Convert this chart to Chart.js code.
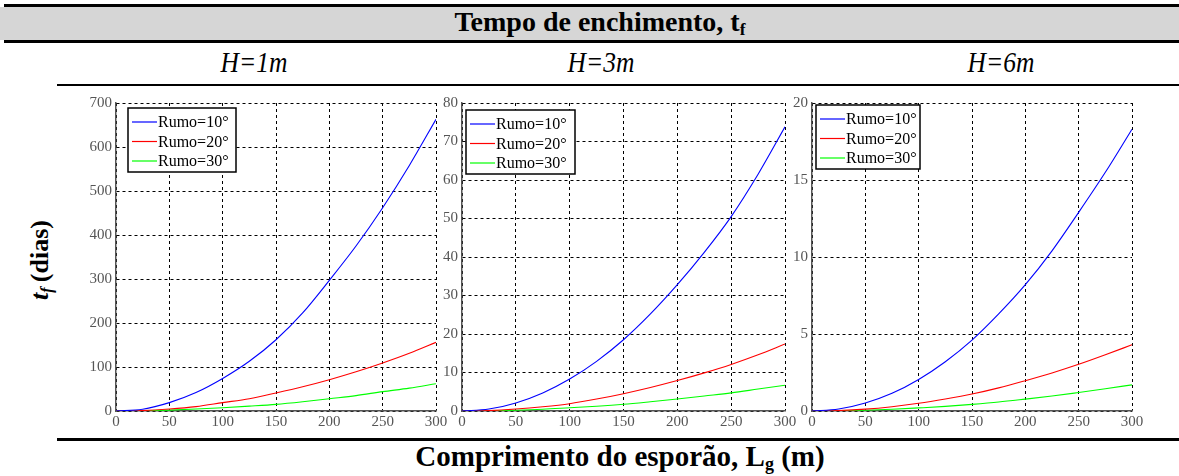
<!DOCTYPE html>
<html>
<head>
<meta charset="utf-8">
<script src="https://cdn.jsdelivr.net/npm/chart.js@4.4.1/dist/chart.umd.min.js"></script>
<style>
  html, body { margin: 0; padding: 0; background: #fff; }
  body { width: 1179px; height: 476px; position: relative; overflow: hidden; font-family: "Liberation Serif", "Times New Roman", serif; }
  .rule { position: absolute; background: #000; }
  .band { position: absolute; left: 0; top: 7px; width: 1179px; height: 33px; background: #d6d6d6; }
  .title { position: absolute; font-family: "Liberation Serif", serif; font-weight: bold; white-space: nowrap; transform: translateX(-50%); }
  .sub { position: absolute; top: 46px; font-family: "Liberation Serif", serif; font-style: italic; font-size: 29px; white-space: nowrap; transform: translateX(-50%) scaleX(0.88); }
  .ytitle { position: absolute; left: 40px; top: 260px; font-family: "Liberation Serif", serif; font-weight: bold; font-size: 26px; white-space: nowrap;
            transform: translate(-50%, -50%) rotate(-90deg); }
  canvas { position: absolute; }
  sub.s { font-size: 62%; vertical-align: -0.25em; line-height: 0; }
</style>
</head>
<body>
  <div class="rule" style="left:4px; top:4px; width:1175px; height:3px;"></div>
  <div class="band"></div>
  <div class="rule" style="left:4px; top:40px; width:1175px; height:3px;"></div>
  <div class="title" style="left:600px; top:6px; font-size:28px;">Tempo de enchimento, t<sub class="s">f</sub></div>

  <div class="sub" style="left:254px;">H=1m</div>
  <div class="sub" style="left:601px;">H=3m</div>
  <div class="sub" style="left:1001px;">H=6m</div>
  <div class="rule" style="left:57px; top:84px; width:1122px; height:2px;"></div>

  <div class="ytitle"><i>t<sub class="s">f</sub></i>&#8201;(dias)</div>

  <canvas id="c1"></canvas>
  <canvas id="c2"></canvas>
  <canvas id="c3"></canvas>

  <div class="rule" style="left:57px; top:438px; width:1122px; height:3px;"></div>
  <div class="title" style="left:620px; top:440px; font-size:29px;">Comprimento do esporão, L<sub class="s">g</sub> (m)</div>

<script>
// Spur length (m), sampled every 25 m
const lengths = [0, 25, 50, 75, 100, 125, 150, 175, 200, 225, 250, 275, 300];
const seriesLabels = ['Rumo=10°', 'Rumo=20°', 'Rumo=30°'];
const seriesColors = ['#0000ff', '#ff0000', '#00ff00'];

// Filling time t_f (days), H = 1 m
const h1Rumo10 = [0, 4, 19, 42, 74, 113, 162, 223, 297, 375, 462, 558, 663];
const h1Rumo20 = [0, 1, 4.5, 10, 19, 28, 41, 55, 71, 89, 109, 131, 156];
const h1Rumo30 = [0, 0.5, 2, 4.5, 7.5, 11, 15, 21, 28, 35, 44, 52, 62];

// Filling time t_f (days), H = 3 m
const h3Rumo10 = [0, 0.5, 2.1, 4.7, 8.3, 12.9, 18.5, 25.2, 32.8, 41.2, 50.5, 61.5, 73.8];
const h3Rumo20 = [0, 0.1, 0.5, 1.1, 1.9, 3.1, 4.5, 6.1, 7.9, 9.9, 12.1, 14.6, 17.4];
const h3Rumo30 = [0, 0.05, 0.2, 0.45, 0.85, 1.25, 1.75, 2.4, 3.1, 3.9, 4.7, 5.7, 6.7];

// Filling time t_f (days), H = 6 m
const h6Rumo10 = [0, 0.13, 0.52, 1.15, 2.05, 3.2, 4.6, 6.3, 8.2, 10.4, 12.9, 15.5, 18.3];
const h6Rumo20 = [0, 0.03, 0.12, 0.28, 0.5, 0.78, 1.1, 1.5, 1.97, 2.47, 3.03, 3.65, 4.3];
const h6Rumo30 = [0, 0.01, 0.05, 0.11, 0.2, 0.3, 0.43, 0.58, 0.77, 0.97, 1.2, 1.44, 1.7];

// Axis ticks
const xTicks = [0, 50, 100, 150, 200, 250, 300];
const yTicksH1 = [0, 100, 200, 300, 400, 500, 600, 700];
const yTicksH3 = [0, 10, 20, 30, 40, 50, 60, 70, 80];
const yTicksH6 = [0, 5, 10, 15, 20];

// Boxed legend drawn inside the plot area, top-left corner
const boxLegend = {
  id: 'boxLegend',
  afterDatasetsDraw(chart, args, opts) {
    const { ctx, chartArea } = chart;
    const x = chartArea.left + opts.dx;
    const y = chartArea.top + opts.dy;
    const rowH = 19.5;
    const n = chart.data.datasets.length;
    const h = 64;
    ctx.save();
    ctx.fillStyle = '#fff';
    ctx.fillRect(x, y, opts.width, h);
    ctx.lineWidth = 1.5;
    ctx.strokeStyle = '#000';
    ctx.strokeRect(x, y, opts.width, h);
    ctx.font = '16px "Liberation Serif"';
    ctx.textBaseline = 'middle';
    ctx.textAlign = 'left';
    for (let i = 0; i < n; i++) {
      const ds = chart.data.datasets[i];
      const cy = y + 14 + i * rowH;
      ctx.beginPath();
      ctx.strokeStyle = ds.borderColor;
      ctx.lineWidth = 1.2;
      ctx.moveTo(x + 4, cy);
      ctx.lineTo(x + 29, cy);
      ctx.stroke();
      ctx.fillStyle = '#000';
      ctx.fillText(ds.label, x + 30, cy + 1);
    }
    ctx.restore();
  }
};

function makeChart(id, left, areaWidth, yMax, yTicks, series, legendDx, legendDy, legendW) {
  const yAxisW = 40, rightPad = 14, topPad = 12, xAxisH = 24;
  const canvas = document.getElementById(id);
  const w = areaWidth + yAxisW + rightPad;
  const h = 411 - 90 + xAxisH;
  canvas.style.left = (left - yAxisW) + 'px';
  canvas.style.top = '90px';
  canvas.style.width = w + 'px';
  canvas.style.height = h + 'px';
  canvas.width = w;
  canvas.height = h;

  const datasets = series.map((vals, i) => ({
    label: seriesLabels[i],
    data: lengths.map((x, k) => ({ x: x, y: vals[k] })),
    borderColor: seriesColors[i],
    backgroundColor: seriesColors[i],
    borderWidth: 1.1,
    pointRadius: 0,
    cubicInterpolationMode: 'monotone',
    fill: false
  }));

  const tickFont = { family: '"Liberation Serif"', size: 15 };
  return new Chart(canvas, {
    type: 'line',
    data: { datasets: datasets },
    options: {
      responsive: false,
      animation: false,
      events: [],
      layout: { padding: { top: topPad, right: rightPad, left: 0, bottom: 0 } },
      plugins: {
        legend: { display: false },
        tooltip: { enabled: false },
        boxLegend: { dx: legendDx, dy: legendDy, width: legendW }
      },
      scales: {
        x: {
          type: 'linear',
          min: 0, max: 300,
          afterFit(s) { s.height = xAxisH; },
          afterBuildTicks(s) { s.ticks = xTicks.map(v => ({ value: v })); },
          ticks: { color: '#555', font: tickFont, padding: 2, maxRotation: 0 },
          grid: { color: '#000', lineWidth: 1, drawTicks: false },
          border: { display: true, color: '#555', width: 1.5, dash: [3, 3] }
        },
        y: {
          type: 'linear',
          min: 0, max: yMax,
          afterFit(s) { s.width = yAxisW; },
          afterBuildTicks(s) { s.ticks = yTicks.map(v => ({ value: v })); },
          ticks: { color: '#555', font: tickFont, padding: 4 },
          grid: { color: '#000', lineWidth: 1, drawTicks: false },
          border: { display: true, color: '#555', width: 1.5, dash: [3, 3] }
        }
      }
    },
    plugins: [boxLegend]
  });
}

makeChart('c1', 116, 320, 700, yTicksH1, [h1Rumo10, h1Rumo20, h1Rumo30], 12, 5, 108);
makeChart('c2', 462, 323, 80, yTicksH3, [h3Rumo10, h3Rumo20, h3Rumo30], 4, 7, 109);
makeChart('c3', 812, 320, 20, yTicksH6, [h6Rumo10, h6Rumo20, h6Rumo30], 4, 2, 104);
</script>
</body>
</html>
